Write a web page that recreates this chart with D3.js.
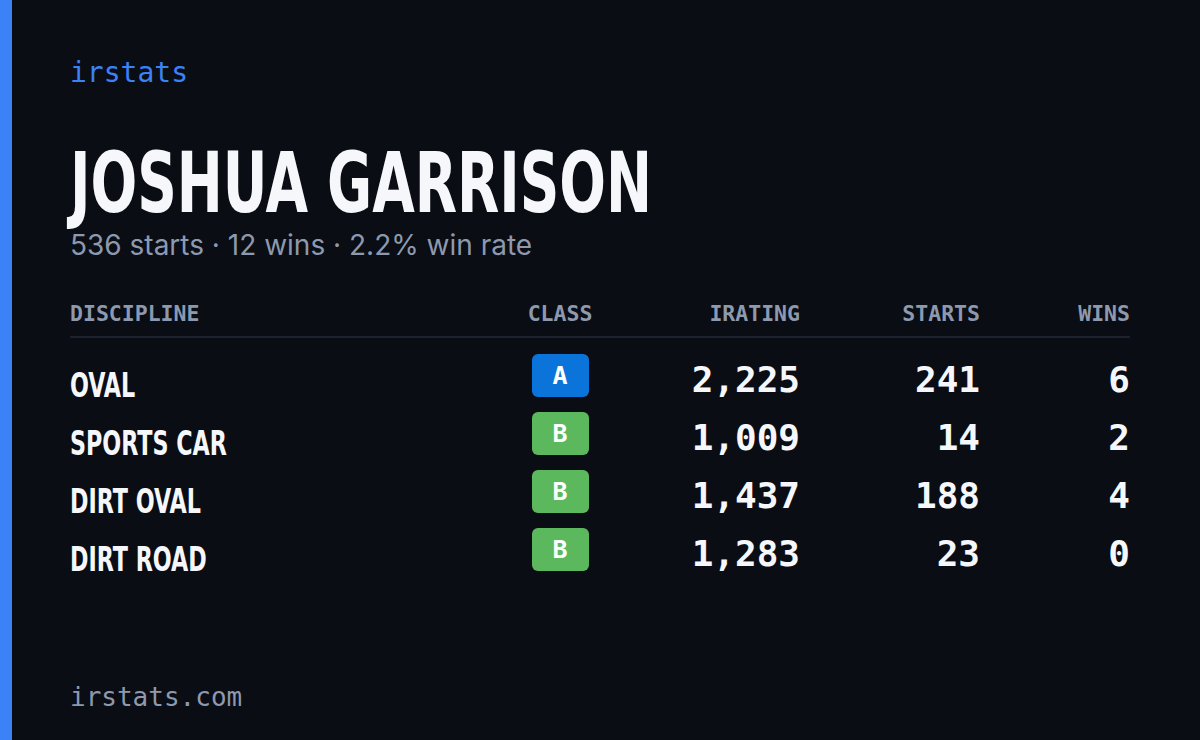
<!DOCTYPE html>
<html><head><meta charset="utf-8">
<script src="https://cdn.jsdelivr.net/npm/d3@7"></script>
<style>body{margin:0;background:#0a0d14}</style>
</head><body>
<script>
var disciplines = ['OVAL', 'SPORTS CAR', 'DIRT OVAL', 'DIRT ROAD'];
var classes = ['A', 'B', 'B', 'B'];
var iratings = [2225, 1009, 1437, 1283];
var starts = [241, 14, 188, 23];
var wins = [6, 2, 4, 0];
var headers = ['DISCIPLINE', 'CLASS', 'IRATING', 'STARTS', 'WINS'];
var careerStarts = 536, careerWins = 12;

var W = 1200, H = 740;
var mono = "'DejaVu Sans Mono', 'Liberation Mono', monospace";
var cond = "'DejaVu Sans Condensed', 'DejaVu Sans', sans-serif";
var classColor = { A: '#0a74da', B: '#5cb85c' };

var svg = d3.select('body').append('svg').attr('width', W).attr('height', H);
svg.append('rect').attr('width', W).attr('height', H).attr('fill', '#0a0d14');
svg.append('rect').attr('width', 12).attr('height', H).attr('fill', '#3b82f6');

svg.append('text').attr('x', 70).attr('y', 82).attr('fill', '#3b82f6')
  .attr('font-family', mono).attr('font-size', 28).text('irstats');

svg.append('text').attr('x', 70).attr('y', 212).attr('fill', '#f5f7fb')
  .attr('font-family', cond).attr('font-weight', 'bold').attr('font-size', 84)
  .attr('textLength', 582).attr('lengthAdjust', 'spacingAndGlyphs').text('JOSHUA GARRISON');

svg.append('text').attr('x', 70).attr('y', 255).attr('fill', '#8d99ae')
  .attr('font-family', 'Inter, sans-serif').attr('font-size', 28)
  .text(careerStarts + ' starts · ' + careerWins + ' wins · ' + d3.format('.1%')(careerWins / careerStarts) + ' win rate');

var cols = [
  { x: 70, anchor: 'start' },
  { x: 560, anchor: 'middle' },
  { x: 800, anchor: 'end' },
  { x: 980, anchor: 'end' },
  { x: 1130, anchor: 'end' }
];

svg.selectAll('.hdr').data(headers).enter().append('text')
  .attr('x', function(d, i) { return cols[i].x; })
  .attr('y', 321).attr('text-anchor', function(d, i) { return cols[i].anchor; })
  .attr('fill', '#8d99ae').attr('font-family', mono).attr('font-size', 21.5).attr('font-weight', 'bold')
  .text(function(d) { return d; });

svg.append('line').attr('x1', 70).attr('x2', 1130).attr('y1', 337).attr('y2', 337)
  .attr('stroke', '#1c2230').attr('stroke-width', 2);

var y = d3.scaleBand().domain(d3.range(disciplines.length)).range([354, 586]).paddingInner(0);
var rows = svg.selectAll('.row').data(disciplines).enter().append('g')
  .attr('transform', function(d, i) { return 'translate(0,' + y(i) + ')'; });

rows.append('text').attr('transform', 'translate(70,43) scale(0.75,1)').attr('fill', '#f5f7fb')
  .attr('font-family', cond).attr('font-weight', 'bold').attr('font-size', 33)
  .text(function(d) { return d; });

rows.append('rect').attr('x', 532).attr('y', 0).attr('width', 57).attr('height', 43).attr('rx', 6)
  .attr('fill', function(d, i) { return classColor[classes[i]]; });
rows.append('text').attr('x', 560).attr('y', 30).attr('text-anchor', 'middle').attr('fill', '#fff')
  .attr('font-family', mono).attr('font-weight', 'bold').attr('font-size', 25)
  .text(function(d, i) { return classes[i]; });

var fmt = d3.format(',');
[iratings, starts, wins].forEach(function(arr, k) {
  rows.append('text').attr('x', cols[k + 2].x).attr('y', 38).attr('text-anchor', 'end')
    .attr('fill', '#f5f7fb').attr('font-family', mono).attr('font-weight', 'bold').attr('font-size', 36)
    .text(function(d, i) { return fmt(arr[i]); });
});

svg.append('text').attr('x', 70).attr('y', 706).attr('fill', '#8d99ae')
  .attr('font-family', mono).attr('font-size', 26).text('irstats.com');
</script>
</body></html>
